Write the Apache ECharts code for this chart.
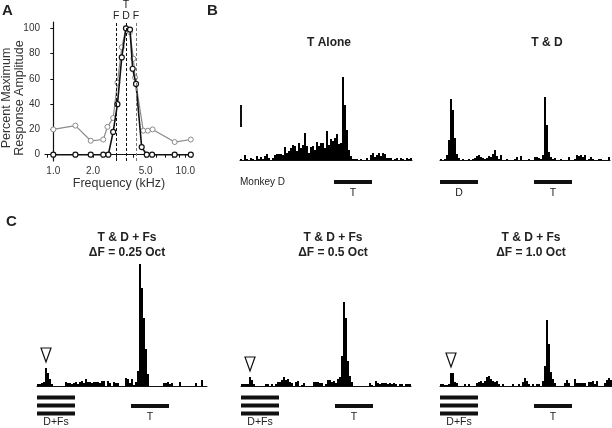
<!DOCTYPE html>
<html>
<head>
<meta charset="utf-8">
<script src="https://cdn.jsdelivr.net/npm/echarts@6/dist/echarts.min.js"></script>
<style>
html, body { margin: 0; padding: 0; background: #fff; }
#main { width: 612px; height: 428px; }
</style>
</head>
<body>
<div id="main"></div>
<script>
// panel A: tuning curves (frequency in kHz, percent of max response)
var freqKHz = [1.0, 1.47, 1.92, 2.39, 2.61, 2.84, 3.06, 3.3, 3.55, 3.81, 3.99, 4.23, 4.67, 5.1, 5.6, 8.3, 11.0];
var blackPct = [0, 0, 0, 0, 0, 18, 40, 77, 100, 99, 68, 56, 6, 0, 0, 0, 0];
var grayFreqKHz = [1.0, 1.47, 1.92, 2.39, 2.57, 2.84, 3.06, 3.3, 3.55, 3.8, 4.04, 4.16, 4.8, 5.2, 5.65, 8.3, 11.0];
var grayPct = [20, 23, 11, 12, 22, 29, 57, 85, 100, 97, 76, 61, 19, 19, 20, 10, 12];
var freqLabels = [1.0, 2.0, 5.0, 10.0];
var freqMinor = [0.9, 1, 2, 3, 4, 5, 6, 7, 8, 9, 10, 11];
var pctTicks = [0, 20, 40, 60, 80, 100];
var markerFreqs = [2.99, 3.55, 4.23];
var markerNames = ['F', 'D', 'F'];

// PSTH bins (2 px each), counts
var tAlone = [1,0,5,1,0,2,1,0,4,1, 3,1,4,6,2,0,2,5,6,6, 6,5,13,7,9,12,15,14,9,17,
  12,15,27,14,7,13,14,10,18,14, 17,17,12,29,15,21,19,22,26,16, 17,83,55,30,10,4,1,1,1,0,
  1,0,0,2,0,5,7,3,5,7, 4,7,6,2,2,2,0,1,2,0, 2,1,0,2,1,2];
var tAndD = [1,0,1,5,20,61,50,22,6,2, 0,1,0,0,1,0,1,2,4,5, 3,2,1,2,4,3,6,10,4,1,
  5,0,0,1,0,0,0,1,3,0, 4,0,0,0,1,0,0,3,3,2, 1,5,63,35,8,3,1,2,0,0,
  1,0,0,0,3,0,0,1,5,4, 5,3,5,0,1,3,1,0,0,1, 1,0,0,0,3];
var fs025 = [2,2,3,4,18,13,7,2,0,0, 0,0,0,0,4,3,3,2,3,4, 2,4,5,3,7,4,4,3,4,4,
  4,3,5,5,0,5,3,0,4,3, 3,0,0,0,8,7,3,7,1,4, 15,122,98,68,37,12,0,0,0,0,
  0,0,0,3,3,4,2,3,0,0, 0,4,0,0,0,0,0,0,0,3, 0,0,6,0,0];
var fs05 = [2,2,2,2,9,6,2,0,0,0, 0,0,2,2,0,2,0,2,4,4, 6,9,6,7,4,3,0,4,5,0,
  1,3,0,0,0,0,4,4,4,3, 3,0,2,6,6,4,5,3,7,9, 30,84,68,25,10,4,0,0,0,0,
  0,0,0,0,3,1,0,5,3,2, 3,3,3,2,3,2,3,2,0,2, 2,0,2,2,2];
var fs10 = [2,2,1,1,2,13,13,4,3,0, 0,0,2,0,2,0,0,0,3,4, 5,3,5,9,10,7,5,4,5,2,
  0,2,0,0,0,0,2,0,0,2, 0,4,8,5,2,0,2,0,2,2, 0,5,20,66,42,14,7,3,0,0,
  0,0,3,6,3,0,0,7,3,3, 3,3,3,0,4,4,5,2,5,0, 0,0,3,6,8,6];

// stimulus windows in bins
var stimD = [0, 18];
var stimT = [47, 65];
var scaleBar = [33, 55];

var FONT = '"Liberation Sans", Arial, Helvetica, sans-serif';
var log10 = function (v) { return Math.log(v) / Math.LN10; };

var hists = [tAlone, tAndD, fs025, fs05, fs10];
var grids = [
  { left: 45, top: 22, width: 148, height: 139 },
  { left: 240, top: 70, width: 172, height: 90 },
  { left: 440, top: 70, width: 170, height: 90 },
  { left: 37, top: 256, width: 170, height: 130 },
  { left: 241, top: 256, width: 170, height: 130 },
  { left: 440, top: 256, width: 172, height: 130 }
];
var histMax = [90, 90, 130, 130, 130];

var xAxes = [{
  type: 'value', gridIndex: 0, min: -0.063, max: 1.058,
  name: 'Frequency (kHz)', nameLocation: 'middle', nameGap: 16,
  nameTextStyle: { fontFamily: FONT, fontSize: 12.5, color: '#333' },
  axisLine: { lineStyle: { color: '#111', width: 1.2 } },
  axisTick: { show: true, length: 3, customValues: freqMinor.map(log10), lineStyle: { color: '#111' } },
  axisLabel: {
    customValues: freqLabels.map(log10), fontFamily: FONT, fontSize: 10, color: '#333', margin: 5,
    formatter: function (v) { return Math.pow(10, v).toFixed(1); }
  },
  splitLine: { show: false }
}];
var yAxes = [{
  type: 'value', gridIndex: 0, min: -5, max: 105,
  axisLine: { show: true, lineStyle: { color: '#111', width: 1.2 } },
  axisTick: { show: true, length: 3, customValues: pctTicks, lineStyle: { color: '#111' } },
  axisLabel: { customValues: pctTicks, fontFamily: FONT, fontSize: 10, color: '#333', margin: 5 },
  splitLine: { show: false }
}];

var series = [{
  type: 'line', xAxisIndex: 0, yAxisIndex: 0,
  data: grayFreqKHz.map(function (f, i) { return [log10(f), grayPct[i]]; }),
  symbol: 'circle', symbolSize: 5,
  lineStyle: { color: '#8a8a8a', width: 1.2 },
  itemStyle: { color: '#fff', borderColor: '#8a8a8a', borderWidth: 1 },
  z: 3
}, {
  type: 'line', xAxisIndex: 0, yAxisIndex: 0,
  data: freqKHz.map(function (f, i) { return [log10(f), blackPct[i]]; }),
  symbol: 'circle', symbolSize: 5,
  lineStyle: { color: '#111', width: 1.6 },
  itemStyle: { color: '#fff', borderColor: '#111', borderWidth: 1.2 },
  z: 4,
  markLine: {
    silent: true, symbol: 'none', label: { show: false },
    data: markerFreqs.map(function (f, i) {
      return {
        xAxis: log10(f),
        lineStyle: { color: i === 2 ? '#777' : '#111', type: [3, 2], width: 1 }
      };
    })
  }
}];

hists.forEach(function (h, k) {
  var gi = k + 1;
  xAxes.push({
    type: 'category', gridIndex: gi, data: h.map(function (_, i) { return i; }),
    boundaryGap: true,
    axisLine: { lineStyle: { color: '#111', width: 1 } },
    axisTick: { show: false }, axisLabel: { show: false }, splitLine: { show: false }
  });
  yAxes.push({ type: 'value', gridIndex: gi, min: 0, max: histMax[k], show: false });
  series.push({
    type: 'bar', xAxisIndex: gi, yAxisIndex: gi, data: h,
    barCategoryGap: '0%', barGap: '0%', silent: true,
    itemStyle: { color: '#000' }
  });
});

var chart = echarts.init(document.getElementById('main'));
chart.setOption({
  animation: false,
  backgroundColor: '#fff',
  grid: grids,
  xAxis: xAxes,
  yAxis: yAxes,
  series: series
});

function px(gi, bin, v) {
  return chart.convertToPixel({ xAxisIndex: gi, yAxisIndex: gi }, [bin, v]);
}
function text(str, x, y, size, weight, align, extra) {
  var el = {
    type: 'text', x: x, y: y, silent: true,
    style: {
      text: str, fill: '#222', textAlign: align || 'center', textVerticalAlign: 'middle',
      font: (weight || 'normal') + ' ' + size + 'px ' + FONT
    }
  };
  if (extra) { for (var k in extra) el[k] = extra[k]; }
  return el;
}
var gfx = [];
function stimBar(gi, range, yOff, label, labelOff) {
  var a = px(gi, range[0], 0), b = px(gi, range[1], 0);
  var bw = px(gi, 1, 0)[0] - px(gi, 0, 0)[0];
  gfx.push({ type: 'rect', silent: true,
    shape: { x: a[0] - bw / 2, y: a[1] + yOff - 2, width: b[0] - a[0] + bw, height: 4 },
    style: { fill: '#111' } });
  if (label) gfx.push(text(label, (a[0] + b[0]) / 2, a[1] + labelOff, 10.5));
}

// panel A frequency markers
markerFreqs.forEach(function (f, i) {
  var p = px(0, log10(f), 105);
  gfx.push(text(markerNames[i], p[0], 16, 10.5));
  if (i === 1) gfx.push(text('T', p[0], 5, 10.5));
});

// panel B stimuli
stimBar(1, stimT, 22, 'T', 33);
stimBar(2, stimD, 22, 'D', 33);
stimBar(2, stimT, 22, 'T', 33);
// panel C stimuli
[3, 4, 5].forEach(function (gi) {
  stimBar(gi, stimD, 11.5);
  stimBar(gi, stimD, 19.5);
  stimBar(gi, stimD, 27.5, 'D+Fs', 36);
  stimBar(gi, stimT, 20, 'T', 31);
  // open triangle over the D+Fs response
  var h = hists[gi - 1];
  var best = stimD[0];
  for (var i = stimD[0]; i <= stimD[1]; i++) if (h[i] > h[best]) best = i;
  var p = px(gi, best, h[best]);
  gfx.push({ type: 'polygon', silent: true,
    shape: { points: [[p[0] - 5, p[1] - 20], [p[0] + 5, p[1] - 20], [p[0], p[1] - 6]] },
    style: { fill: '#fff', stroke: '#111', lineWidth: 1.2 } });
});

// scale bar
var s0 = px(1, 0, scaleBar[0]), s1 = px(1, 0, scaleBar[1]);
gfx.push({ type: 'rect', silent: true,
  shape: { x: s0[0] - 1, y: s1[1], width: 2, height: s0[1] - s1[1] },
  style: { fill: '#111' } });

// labels
gfx.push(text('A', 2, 11, 15, 'bold', 'left'));
gfx.push(text('B', 207, 11, 15, 'bold', 'left'));
gfx.push(text('C', 6, 222, 15, 'bold', 'left'));
gfx.push(text('Percent Maximum\nResponse Amplitude', 13, 98, 12.5, 'normal', 'center',
  { rotation: Math.PI / 2 }));
gfx[gfx.length - 1].style.lineHeight = 13;
gfx[gfx.length - 1].style.fill = '#333';
gfx.push(text('T Alone', 329, 43, 12, 'bold'));
gfx.push(text('T & D', 547, 43, 12, 'bold'));
gfx.push(text('Monkey D', 240, 182, 10, 'normal', 'left'));
var cTitles = [['\u0394F = 0.25 Oct', 127], ['\u0394F = 0.5 Oct', 333], ['\u0394F = 1.0 Oct', 531]];
cTitles.forEach(function (t) {
  gfx.push(text('T & D + Fs', t[1], 238, 12, 'bold'));
  gfx.push(text(t[0], t[1], 253, 12, 'bold'));
});

chart.setOption({ graphic: gfx });
</script>
</body>
</html>
